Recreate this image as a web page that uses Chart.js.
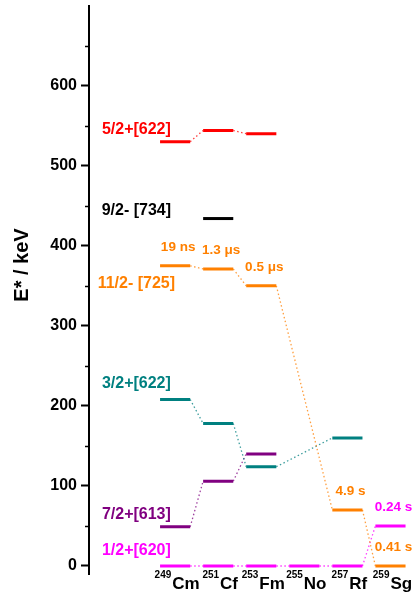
<!DOCTYPE html>
<html>
<head>
<meta charset="utf-8">
<script src="https://cdn.jsdelivr.net/npm/chart.js@4/dist/chart.umd.min.js"></script>
<style>
  html, body { margin: 0; padding: 0; background: #fff; }
</style>
</head>
<body>
<canvas id="levels" width="416" height="600"></canvas>
<script>
// Nuclei along the isotone chain (N = 153)
const nuclei = ['Cm', 'Cf', 'Fm', 'No', 'Rf', 'Sg'];
const massNumbers = ['249', '251', '253', '255', '257', '259'];

// Energy axis ticks (keV)
const yTicks = [0, 100, 200, 300, 400, 500, 600];
const yMinorTicks = [50, 150, 250, 350, 450, 550, 650];

// Excitation energies (keV) of each Nilsson state, null = not known
const e_5_2_622  = [530, 544, 540, null, null, null];
const e_9_2_734  = [null, 434, null, null, null, null];
const e_11_2_725 = [375, 371, 350, null, 70, 0];
const e_3_2_622  = [208, 178, 124, null, 160, null];
const e_7_2_613  = [49, 106, 140, null, null, null];
const e_1_2_620  = [0, 0, 0, 0, 0, 50];

// Half-lives quoted next to the levels
const t_11_2_725 = ['19 ns', '1.3 \u03bcs', '0.5 \u03bcs', null, '4.9 s', '0.41 s'];
const t_1_2_620  = [null, null, null, null, null, '0.24 s'];

const orbitals = [
  { name: '5/2+[622]',   levels: e_5_2_622,  halfLives: null,       color: '#ff0000', labelY: 545 },
  { name: '9/2- [734]',  levels: e_9_2_734,  halfLives: null,       color: '#000000', labelY: 444 },
  { name: '11/2- [725]', levels: e_11_2_725, halfLives: t_11_2_725, color: '#ff8000', labelY: 353 },
  { name: '3/2+[622]',   levels: e_3_2_622,  halfLives: null,       color: '#008080', labelY: 228 },
  { name: '7/2+[613]',   levels: e_7_2_613,  halfLives: null,       color: '#800080', labelY: 64 },
  { name: '1/2+[620]',   levels: e_1_2_620,  halfLives: t_1_2_620,  color: '#ff00ff', labelY: 19 }
];

const HALF = 0.35;          // half width of a level bar in category units
const FONT = '"Liberation Sans", Arial, sans-serif';

function levelPoints(levels) {
  const pts = [];
  levels.forEach((e, i) => {
    if (e === null) return;
    pts.push({ x: i - HALF, y: e }, { x: i + HALF, y: e }, { x: i + HALF, y: null });
  });
  return pts;
}

function connectorPoints(levels) {
  const pts = [];
  let prev = null;
  levels.forEach((e, i) => {
    if (e === null) return;
    if (prev !== null) {
      pts.push({ x: prev + HALF, y: levels[prev] }, { x: i - HALF, y: e }, { x: i - HALF, y: null });
    }
    prev = i;
  });
  return pts;
}

const datasets = [];
orbitals.forEach(o => {
  datasets.push({
    data: connectorPoints(o.levels),
    borderColor: o.color + 'c0',
    borderWidth: 1.3,
    borderDash: [1.5, 2.5],
    pointRadius: 0,
    showLine: true,
    spanGaps: false,
    order: 2
  });
  datasets.push({
    data: levelPoints(o.levels),
    borderColor: o.color,
    borderWidth: 3,
    borderCapStyle: 'butt',
    pointRadius: 0,
    showLine: true,
    spanGaps: false,
    order: 1
  });
});

const annotate = {
  id: 'annotate',
  afterDraw(chart) {
    const ctx = chart.ctx;
    const xs = chart.scales.x, ys = chart.scales.y;
    ctx.save();

    // minor ticks on the energy axis
    const axisX = chart.chartArea.left;
    ctx.strokeStyle = '#000';
    ctx.lineWidth = 1.5;
    yMinorTicks.forEach(v => {
      const py = Math.round(ys.getPixelForValue(v)) + 0.5;
      ctx.beginPath();
      ctx.moveTo(axisX - 4, py);
      ctx.lineTo(axisX, py);
      ctx.stroke();
    });

    // orbital names
    ctx.textAlign = 'center';
    ctx.textBaseline = 'middle';
    ctx.font = 'bold 16px ' + FONT;
    orbitals.forEach(o => {
      ctx.fillStyle = o.color;
      ctx.fillText(o.name, xs.getPixelForValue(-0.9), ys.getPixelForValue(o.labelY));
    });

    // half-lives above their levels
    ctx.font = 'bold 13.5px ' + FONT;
    orbitals.forEach(o => {
      if (!o.halfLives) return;
      ctx.fillStyle = o.color;
      o.halfLives.forEach((t, i) => {
        if (!t) return;
        ctx.fillText(t, xs.getPixelForValue(i) + 3, ys.getPixelForValue(o.levels[i]) - 19);
      });
    });

    // nucleus labels with mass number as superscript
    ctx.textBaseline = 'alphabetic';
    ctx.textAlign = 'left';
    nuclei.forEach((sym, i) => {
      ctx.font = 'bold 10px ' + FONT;
      const wA = ctx.measureText(massNumbers[i]).width;
      ctx.font = 'bold 17px ' + FONT;
      const wS = ctx.measureText(sym).width;
      const x0 = xs.getPixelForValue(i) + 2 - (wA + 1 + wS) / 2;
      ctx.fillStyle = '#000';
      ctx.font = 'bold 10px ' + FONT;
      ctx.fillText(massNumbers[i], x0, 578);
      ctx.font = 'bold 17px ' + FONT;
      ctx.fillText(sym, x0 + wA + 1, 589);
    });

    // energy axis title
    ctx.translate(22, 265);
    ctx.rotate(-Math.PI / 2);
    ctx.textAlign = 'center';
    ctx.textBaseline = 'middle';
    ctx.font = 'bold 20px ' + FONT;
    ctx.fillText('E* / keV', 0, 0);
    ctx.restore();
  }
};

new Chart(document.getElementById('levels'), {
  type: 'scatter',
  data: { datasets },
  options: {
    responsive: false,
    animation: false,
    devicePixelRatio: 1,
    layout: { padding: { top: 6, bottom: 26, left: 0, right: 4 } },
    plugins: { legend: { display: false }, tooltip: { enabled: false } },
    scales: {
      x: { type: 'linear', min: -2, max: 5.5, display: false },
      y: {
        type: 'linear',
        min: -10,
        max: 699.5,
        afterFit: s => { s.width = 89; s.paddingTop = 0; s.paddingBottom = 0; },
        afterBuildTicks: s => { s.ticks = yTicks.map(v => ({ value: v })); },
        border: { display: true, color: '#000', width: 2 },
        grid: { drawOnChartArea: false, drawTicks: true, tickLength: 8, tickWidth: 2, tickColor: '#000' },
        ticks: { color: '#000', padding: 4, font: { family: FONT, size: 16, weight: 'bold' } }
      }
    }
  },
  plugins: [annotate]
});
</script>
</body>
</html>
